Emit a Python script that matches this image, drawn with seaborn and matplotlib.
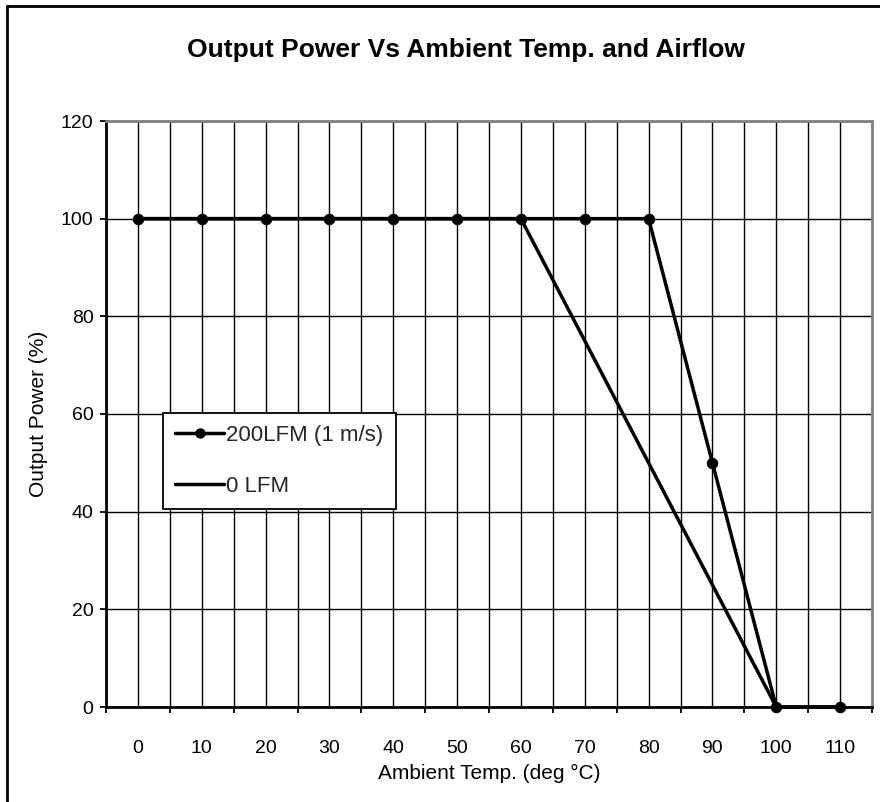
import numpy as np
import pandas as pd
import matplotlib.pyplot as plt
import seaborn as sns
from matplotlib.lines import Line2D

temps = [0, 10, 20, 30, 40, 50, 60, 70, 80, 90, 100, 110]
power_200lfm = [100, 100, 100, 100, 100, 100, 100, 100, 100, 50, 0, 0]
power_0lfm = [100, 100, 100, 100, 100, 100, 100, 75, 50, 25, 0, 0]
series_names = ["200LFM (1 m/s)", "0 LFM"]

sns.set_theme(style="white")
plt.rcParams["font.family"] = ["Liberation Sans", "DejaVu Sans"]

df = pd.DataFrame({
    "temp": temps * 2,
    "power": power_200lfm + power_0lfm,
    "series": [series_names[0]] * len(temps) + [series_names[1]] * len(temps),
})

fig = plt.figure(figsize=(8.8, 8.02), dpi=100)
ax = fig.add_axes([106 / 880, 1 - 707 / 802, 766 / 880, 586 / 802])

# 0 LFM drawn first so the marked series sits on top
sns.lineplot(data=df[df.series == series_names[1]], x="temp", y="power",
             color="black", linewidth=2.5, ax=ax, legend=False)
sns.lineplot(data=df[df.series == series_names[0]], x="temp", y="power",
             color="black", linewidth=2.5, marker="o", markersize=7.5,
             markeredgecolor="black", ax=ax, legend=False)
for ln in ax.get_lines():
    ln.set_clip_on(False)
    ln.set_zorder(5)

ax.set_xlim(-5, 115)
ax.set_ylim(0, 120)
ax.set_xticks(temps)
ax.set_xticks(np.arange(-5, 116, 10), minor=True)
ax.set_yticks(range(0, 121, 20))
ax.grid(True, which="both", axis="x", color="black", linewidth=1.0)
ax.grid(True, which="major", axis="y", color="black", linewidth=1.0)
ax.set_axisbelow(True)

ax.tick_params(axis="x", which="major", length=0, labelsize=14, pad=24, colors="black")
ax.tick_params(axis="x", which="minor", length=4.5, width=1.3, direction="out",
               bottom=True, color="black")
ax.tick_params(axis="y", length=4.5, width=1.3, direction="out", left=True,
               labelsize=14, pad=4.5, colors="black")

for side in ["left", "bottom"]:
    ax.spines[side].set_color("black")
    ax.spines[side].set_linewidth(2)
for side in ["top", "right"]:
    ax.spines[side].set_color("#808080")
    ax.spines[side].set_linewidth(2)

ax.set_xlabel("Ambient Temp. (deg °C)", fontsize=15, labelpad=5, color="black")
ax.set_ylabel("Output Power (%)", fontsize=15, labelpad=9, color="black")

fig.text(466 / 880, 1 - 57 / 802, "Output Power Vs Ambient Temp. and Airflow",
         ha="center", va="baseline", fontsize=19, fontweight="bold", color="black")

handles = [
    Line2D([], [], color="black", linewidth=2.5, marker="o", markersize=6.5),
    Line2D([], [], color="black", linewidth=2.5),
]
leg = ax.legend(handles, series_names, loc="upper left",
                bbox_to_anchor=((163 - 106) / 766, (707 - 413) / 586),
                fontsize=16, frameon=True, fancybox=False, edgecolor="black",
                framealpha=1, handlelength=2.2, handletextpad=0.1,
                borderpad=0.55, labelspacing=1.35, borderaxespad=0)
leg.get_frame().set_linewidth(1.3)
leg.set_zorder(10)

# outer chart frame (partly cropped in the original)
fig.add_artist(Line2D([7 / 880, 7 / 880], [0, 1 - 6 / 802], color="black",
                      linewidth=2, transform=fig.transFigure))
fig.add_artist(Line2D([7 / 880, 1], [1 - 6 / 802, 1 - 6 / 802], color="black",
                      linewidth=2, transform=fig.transFigure))

fig.savefig("out.png", dpi=100)
